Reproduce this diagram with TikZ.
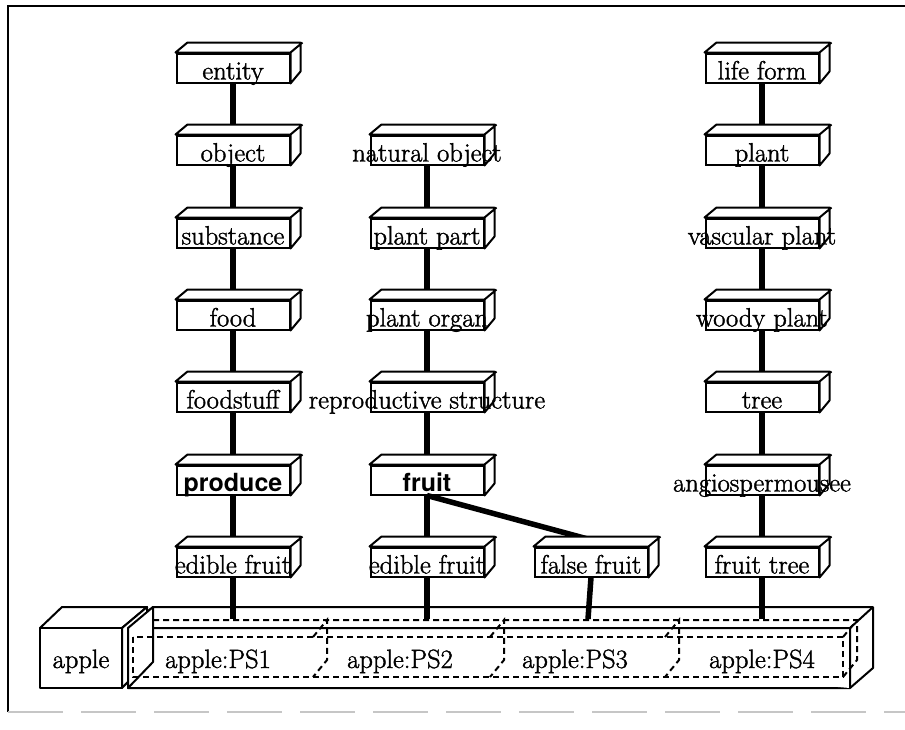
\documentclass[tikz,border=0pt]{standalone}
\usepackage{fontspec}
\setmainfont{Latin Modern Roman}[RawFeature={embolden=1.5}]
\newfontfamily\heros{TeX Gyre Heros}
\begin{document}
\begin{tikzpicture}[x=1pt, y=-1pt,
  crate/.style={draw, fill=white, line width=2pt, minimum width=113pt, minimum height=29pt, inner sep=0pt},
  face/.style={draw, fill=white, line width=2pt, line join=round},
  link/.style={line width=5.5pt},
  word/.style={font=\fontsize{26.5}{30}\selectfont, anchor=base, inner sep=0pt},
  bold/.style={word, font=\fontsize{25}{30}\selectfont\heros\bfseries},
  seg/.style={line width=2pt, dash pattern=on 6pt off 4pt}]
\useasboundingbox (0,0) rectangle (905,729);
% frame
\draw[line width=1.4pt] (8,712) -- (8,6) -- (905,6);
\draw[gray!45, line width=1.6pt, dash pattern=on 55pt off 18pt] (8,712) -- (905,712);
% boxes
\foreach \n/\x/\y in {a1/233/68, a2/233/150, a3/233/233, a4/233/315, a5/233/397, a6/233/480, a7/233/562,
  b2/427/150, b3/427/233, b4/427/315, b5/427/397, b6/427/480, b7/427/562, c7/591/562,
  d1/762/68, d2/762/150, d3/762/233, d4/762/315, d5/762/397, d6/762/480, d7/762/562}
  \node[crate] (\n) at (\x,\y) {};
% apple and its parts
\filldraw[face] (40,628) -- (62,607) -- (147,607) -- (122,628) -- cycle;
\draw[face] (40,628) rectangle (122,688);
\filldraw[face] (128,628) -- (153,607) -- (873,607) -- (873,668) -- (850,688) -- (128,688) -- cycle;
\draw[face] (128,628) -- (850,628) -- (850,688) (850,628) -- (873,607);
\draw[face] (122,628) -- (147,607) -- (147,662) -- (122,688) -- cycle;
\draw[face] (128,628) -- (153,607) -- (153,662) -- (128,688) -- cycle;
\draw[seg] (133,637) rectangle (843,677);
\draw[seg] (153,620) -- (857,620) -- (857,660) -- (843,677) (843,637) -- (857,620);
\foreach \x in {313,490,665} \draw[seg] (\x,637) -- (\x+14,620) -- (\x+14,660) -- (\x,677);
\coordinate (p1) at (233,619);
\coordinate (p2) at (427,619);
\coordinate (p3) at (588,619);
\coordinate (p4) at (762,619);
% links
\foreach \a/\b in {a1/a2,a2/a3,a3/a4,a4/a5,a5/a6,a6/a7,b2/b3,b3/b4,b4/b5,b5/b6,b6/b7,
  d1/d2,d2/d3,d3/d4,d4/d5,d5/d6,d6/d7}
  \draw[link] (\a.south) -- (\b.north);
\draw[link] (b6.south) -- ([shift={(6,-5)}]c7.north);
\foreach \a/\b in {a7/p1,b7/p2,c7/p3,d7/p4} \draw[link] (\a.south) -- (\b);
% tops and sides
\foreach \n in {a1,a2,a3,a4,a5,a6,a7,b2,b3,b4,b5,b6,b7,c7,d1,d2,d3,d4,d5,d6,d7}
  \filldraw[face] (\n.north west) -- ++(12,-10) -- ++(113,0) -- ++(0,29) -- (\n.south east)
    -- (\n.north east) -- cycle (\n.north east) -- ++(12,-10);
% labels
\foreach \n/\t in {a1/entity, a2/object, a3/substance, a4/food, a5/foodstuff, a7/edible fruit,
  b2/natural object, b3/plant part, b4/plant organ, b5/reproductive structure, b7/edible fruit,
  c7/false fruit, d1/life form, d2/plant, d3/vascular plant, d4/woody plant, d5/tree,
  d6/angiospermousee, d7/fruit tree}
  \node[word] at ([yshift=4pt]\n.south) {\t};
\foreach \n/\t in {a6/produce, b6/fruit} \node[bold] at ([yshift=4pt]\n.south) {\t};
\node[word] (apple) at (81,668) {apple};
\foreach \t/\x in {1/218,2/400,3/575,4/762} \node[word] (ps\t) at (\x,668) {apple:PS\t};
\end{tikzpicture}
\end{document}
